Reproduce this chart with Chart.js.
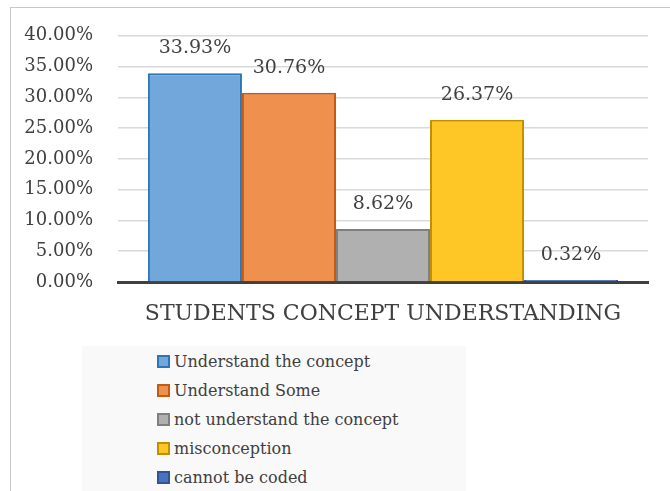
<!DOCTYPE html>
<html>
<head>
<meta charset="utf-8">
<script src="https://cdn.jsdelivr.net/npm/chart.js@4.4.1/dist/chart.umd.min.js"></script>
<style>
  html, body { margin: 0; padding: 0; background: #ffffff; }
  body { width: 670px; height: 491px; position: relative; overflow: hidden; }
  #frame { position: absolute; left: 10px; top: 7px; width: 700px; height: 520px; border: 1px solid #c9c9c9; box-sizing: border-box; }
  #wrap { position: absolute; left: 0; top: 0; width: 670px; height: 340px; }
  #legend { position: absolute; left: 82px; top: 346px; width: 384px; height: 160px; background: #f9f9f9; }
  .item { position: absolute; left: 75px; height: 20px; display: flex; align-items: center;
          font-family: "DejaVu Serif", serif; font-size: 16px; color: #404040; white-space: nowrap; }
  .sw { width: 9px; height: 9px; border: 2px solid; margin-right: 4px; }
</style>
</head>
<body>
<div id="frame"></div>
<div id="wrap"><canvas id="c" width="670" height="340"></canvas></div>
<div id="legend"></div>
<script>
const categories = ['STUDENTS CONCEPT UNDERSTANDING'];
const seriesNames = ['Understand the concept', 'Understand Some', 'not understand the concept', 'misconception', 'cannot be coded'];
const seriesValues = [33.93, 30.76, 8.62, 26.37, 0.32];
const yTicks = [0, 5, 10, 15, 20, 25, 30, 35, 40];

const fills = ['#71a7da', '#f0904f', '#b0b0b0', '#ffc726', '#4a72c0'];
const borders = ['#2e75b6', '#c55a11', '#7f7f7f', '#bf9000', '#2f5597'];

const datasets = seriesNames.map((name, i) => ({
  label: name,
  data: [seriesValues[i]],
  backgroundColor: fills[i],
  borderColor: borders[i],
  borderWidth: 2,
  borderSkipped: 'bottom',
  categoryPercentage: 0.887,
  barPercentage: 1.0
}));

const valueLabels = {
  id: 'valueLabels',
  afterDatasetsDraw(chart) {
    const ctx = chart.ctx;
    ctx.save();
    ctx.font = '19px "DejaVu Serif", serif';
    ctx.fillStyle = '#404040';
    ctx.textAlign = 'center';
    ctx.textBaseline = 'middle';
    chart.data.datasets.forEach((ds, i) => {
      const meta = chart.getDatasetMeta(i);
      meta.data.forEach((bar, j) => {
        ctx.fillText(ds.data[j].toFixed(2) + '%', bar.x, bar.y - 25);
      });
    });
    ctx.restore();
  }
};

new Chart(document.getElementById('c'), {
  type: 'bar',
  data: { labels: categories, datasets },
  options: {
    responsive: false,
    animation: false,
    devicePixelRatio: 1,
    layout: { padding: { left: 0, right: 22, top: 33, bottom: 0 } },
    plugins: { legend: { display: false }, tooltip: { enabled: false } },
    scales: {
      x: {
        grid: { display: false, drawTicks: false },
        border: { display: true, color: '#404040', width: 3 },
        ticks: { color: '#404040', padding: 19, font: { family: '"DejaVu Serif", serif', size: 22 } },
        afterFit(scale) { scale.height = 58; }
      },
      y: {
        min: 0, max: 40,
        afterBuildTicks(scale) { scale.ticks = yTicks.map(v => ({ value: v })); },
        grid: { color: '#d9d9d9', lineWidth: 1.5, drawTicks: false },
        border: { display: false },
        ticks: { color: '#404040', padding: 25, font: { family: '"DejaVu Serif", serif', size: 18 },
                 callback: v => Number(v).toFixed(2) + '%' },
        afterFit(scale) { scale.width = 118; }
      }
    }
  },
  plugins: [valueLabels]
});

const legend = document.getElementById('legend');
seriesNames.forEach((name, i) => {
  const d = document.createElement('div');
  d.className = 'item';
  d.style.top = (5 + i * 29) + 'px';
  const sw = document.createElement('span');
  sw.className = 'sw';
  sw.style.background = fills[i];
  sw.style.borderColor = borders[i];
  d.appendChild(sw);
  d.appendChild(document.createTextNode(name));
  legend.appendChild(d);
});
</script>
</body>
</html>
